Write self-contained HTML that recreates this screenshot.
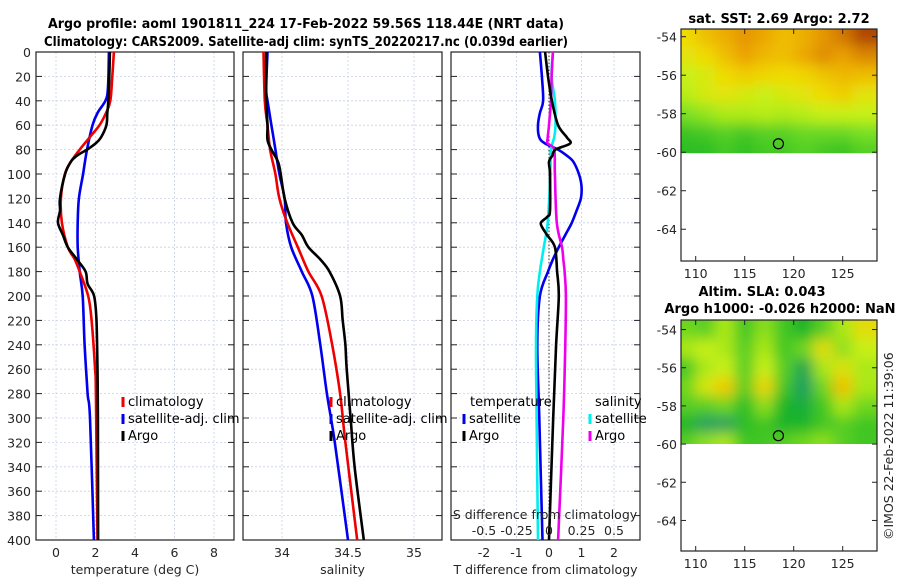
<!DOCTYPE html>
<html><head><meta charset="utf-8">
<style>
html,body{margin:0;padding:0;background:#fff;}
svg{display:block;font-family:"DejaVu Sans","Liberation Sans",sans-serif;}
.tk{font-size:12.5px;fill:#262626;}
.ttl{font-size:13px;font-weight:bold;fill:#000;}
.ttl2{font-size:13px;font-weight:bold;fill:#000;}
.lg{font-size:13px;fill:#000;}
</style></head>
<body>
<svg id="fig" width="900" height="580" viewBox="0 0 900 580" xmlns="http://www.w3.org/2000/svg">
<defs>
<filter id="blur" x="0" y="0" width="1" height="1"><feGaussianBlur stdDeviation="7"/></filter>
<clipPath id="clipM1"><rect x="681" y="29" width="196" height="125"/></clipPath>
<clipPath id="clipM2"><rect x="681" y="320" width="196" height="124"/></clipPath>
</defs>
<text class="ttl2" x="306" y="28" text-anchor="middle" textLength="516" lengthAdjust="spacingAndGlyphs">Argo profile: aoml 1901811_224 17-Feb-2022 59.56S 118.44E (NRT data)</text>
<text class="ttl2" x="306" y="46" text-anchor="middle" textLength="524" lengthAdjust="spacingAndGlyphs">Climatology: CARS2009. Satellite-adj clim: synTS_20220217.nc (0.039d earlier)</text>
<text class="ttl" x="779" y="23" text-anchor="middle">sat. SST: 2.69 Argo: 2.72</text>
<text class="ttl" x="762" y="296" text-anchor="middle">Altim. SLA: 0.043</text>
<text class="ttl" x="780" y="313" text-anchor="middle">Argo h1000: -0.026 h2000: NaN</text>
<text class="tk" transform="translate(893,540) rotate(-90)">©IMOS 22-Feb-2022 11:39:06</text>
<g id="plots"></g>
</svg>
<script>
// ---------- data ----------
const depthTicks = [0,20,40,60,80,100,120,140,160,180,200,220,240,260,280,300,320,340,360,380,400];
const tempTicks = [0,2,4,6,8];
const salTicks = [34,34.5,35];
const salTickLabels = ["34","34.5","35"];
const tdiffTicks = [-2,-1,0,1,2];
const sdiffTicks = [-0.5,-0.25,0,0.25,0.5];
const sdiffTickLabels = ["-0.5","-0.25","0","0.25","0.5"];

const tArgoDepth = [0,20,40,50,60,70,75,80,85,90,100,120,130,140,150,160,170,180,190,200,220,260,300,400];
const tArgo      = [2.73,2.7,2.65,2.6,2.55,2.28,2.0,1.57,1.06,0.75,0.46,0.2,0.2,0.1,0.35,0.6,1.06,1.5,1.6,1.93,2.05,2.1,2.12,2.13];
const tClimDepth = [0,20,40,50,60,70,80,90,100,120,140,160,170,180,200,220,260,280,400];
const tClim      = [2.93,2.85,2.75,2.53,2.2,1.7,1.2,0.75,0.45,0.25,0.3,0.6,0.95,1.2,1.63,1.8,1.98,2.02,2.1];
const tSatDepth  = [0,30,40,50,60,80,100,120,140,160,180,200,240,280,300,400];
const tSat       = [2.68,2.63,2.5,2.1,1.85,1.57,1.37,1.16,1.1,1.1,1.2,1.35,1.45,1.6,1.72,1.92];

const sArgoDepth = [0,20,40,60,72,80,90,100,120,140,150,160,170,180,200,220,240,260,300,340,400];
const sArgo      = [33.88,33.88,33.88,33.89,33.89,33.92,33.97,33.99,34.02,34.08,34.15,34.2,34.29,34.36,34.44,34.46,34.48,34.49,34.52,34.55,34.62];
const sClimDepth = [0,40,60,80,100,120,140,160,180,200,240,280,320,400];
const sClim      = [33.86,33.87,33.89,33.91,33.95,33.98,34.04,34.12,34.2,34.3,34.38,34.44,34.48,34.57];
const sSatDepth  = [0,30,40,60,80,100,120,140,160,180,200,240,280,320,400];
const sSat       = [33.89,33.88,33.89,33.92,33.95,33.98,34.02,34.03,34.07,34.15,34.23,34.29,34.34,34.4,34.5];

const dTSatDepth = [0,20,40,50,60,70,75,80,85,90,100,110,120,130,140,150,160,170,180,200,240,300,400];
const dTSat      = [-0.28,-0.22,-0.18,-0.28,-0.34,-0.3,-0.12,0.28,0.55,0.75,0.92,1.0,0.98,0.85,0.7,0.5,0.3,0.12,-0.03,-0.28,-0.36,-0.3,-0.2];
const dTArgoDepth = [0,20,40,60,70,75,80,85,90,100,130,135,140,145,150,160,180,200,240,300,400];
const dTArgo      = [-0.12,-0.03,0.09,0.28,0.55,0.65,0.2,0.1,0.0,0.03,0.03,-0.05,-0.25,-0.18,-0.06,0.18,0.25,0.3,0.22,0.13,0.0];
const dSArgoDepth = [0,20,40,60,70,75,80,100,140,160,170,180,200,240,300,400];
const dSArgo      = [0.03,0.02,0.015,0.0,-0.01,-0.01,0.04,0.045,0.06,0.1,0.11,0.12,0.13,0.125,0.11,0.07];
const dSSatDepth = [0,20,40,60,70,80,100,140,160,180,200,240,300,400];
const dSSat      = [0.03,0.02,0.045,0.05,0.04,0.015,0.01,-0.01,-0.04,-0.07,-0.09,-0.1,-0.095,-0.085];

const mapLon = [109,111,113,115,117,119,121,123,125,127];
const sstLat = [-54,-55,-56,-57,-58,-59,-59.8];
const sstVals = [
 [0.6,0.7,0.76,0.82,0.78,0.7,0.75,0.82,0.88,0.98],
 [0.55,0.6,0.7,0.8,0.72,0.7,0.78,0.84,0.8,0.85],
 [0.45,0.5,0.6,0.65,0.62,0.6,0.62,0.68,0.72,0.7],
 [0.42,0.5,0.55,0.5,0.45,0.5,0.55,0.6,0.65,0.55],
 [0.3,0.35,0.4,0.4,0.42,0.4,0.42,0.45,0.45,0.45],
 [0.12,0.15,0.2,0.15,0.2,0.2,0.25,0.25,0.25,0.3],
 [0.08,0.08,0.15,0.1,0.15,0.15,0.2,0.15,0.12,0.2]];
const slaLat = [-54,-55,-56,-57,-58,-59,-59.8];
const slaVals = [
 [0.4,0.35,0.5,0.3,0.45,0.3,0.2,0.35,0.5,0.65],
 [0.5,0.55,0.5,0.35,0.5,0.3,0.4,0.65,0.45,0.55],
 [0.3,0.5,0.55,0.35,0.55,0.35,0.1,0.5,0.62,0.5],
 [0.4,0.6,0.72,0.35,0.68,0.3,0.05,0.4,0.75,0.5],
 [0.35,0.35,0.4,0.25,0.45,0.2,0.15,0.3,0.5,0.4],
 [0.2,0.05,0.05,0.25,0.3,0.2,0.2,0.3,0.35,0.3],
 [0.35,0.45,0.5,0.3,0.3,0.35,0.4,0.45,0.35,0.3]];
const argoPos = [118.44,-59.56];
const mapLonTicks = [110,115,120,125];
const mapLatTicks = [-54,-56,-58,-60,-62,-64];

// ---------- helpers ----------
const NS="http://www.w3.org/2000/svg";
const root=document.getElementById('plots');
function mk(tag,attrs,parent){const e=document.createElementNS(NS,tag);for(const k in attrs)e.setAttribute(k,attrs[k]);(parent||root).appendChild(e);return e;}
const yTop=52,yBot=540;
function yD(d){return yTop+(yBot-yTop)*d/400;}
function lin(d0,d1,r0,r1){return v=>r0+(v-d0)*(r1-r0)/(d1-d0);}
const xT=lin(0,8,56,214);
const xS=lin(34,35,282,414);
const xDT=lin(-2,2,484,614);
const xDS=lin(-0.5,0.5,484,614);

function panel(name,x0,x1,xs,ticks,labels,xlabel,showY){
  const g=mk('g',{});
  
  
  for(const d of depthTicks){const l=mk('line',{x1:x0,x2:x1,y1:yD(d),y2:yD(d),stroke:'#c8cfe8','stroke-width':0.8,'stroke-dasharray':'2,2'},g);
    
    mk('line',{x1:x0,x2:x0+6,y1:yD(d),y2:yD(d),stroke:'#222'},g);mk('line',{x1:x1-6,x2:x1,y1:yD(d),y2:yD(d),stroke:'#222'},g);
    if(showY){const t=mk('text',{x:x0-5,y:yD(d)+5,'text-anchor':'end',class:'tk'},g);t.textContent=d;
      }}
  ticks.forEach((v,i)=>{const X=xs(v);const l=mk('line',{x1:X,x2:X,y1:yTop,y2:yBot,stroke:'#c8cfe8','stroke-width':0.8,'stroke-dasharray':'2,2'},g);
    
    const t=mk('text',{x:X,y:557,'text-anchor':'middle',class:'tk'},g);t.textContent=labels[i];
    });
  const r=mk('rect',{x:x0,y:yTop,width:x1-x0,height:yBot-yTop,fill:'none',stroke:'#222','stroke-width':1.2},g);
  
  const xl=mk('text',{x:(x0+x1)/2,y:574,'text-anchor':'middle',class:'tk'},g);xl.textContent=xlabel;
  
  return g;
}
function line(g,name,xs,vals,depths,color){
  const P=vals.map((v,i)=>[xs(v),yD(depths[i])]);
  let d='M'+P[0][0].toFixed(1)+','+P[0][1].toFixed(1);
  for(let i=0;i<P.length-1;i++){const p0=P[Math.max(0,i-1)],p1=P[i],p2=P[i+1],p3=P[Math.min(P.length-1,i+2)];
    const c1=[p1[0]+(p2[0]-p0[0])/6,p1[1]+(p2[1]-p0[1])/6],c2=[p2[0]-(p3[0]-p1[0])/6,p2[1]-(p3[1]-p1[1])/6];
    d+=' C'+c1.map(n=>n.toFixed(1)).join(',')+' '+c2.map(n=>n.toFixed(1)).join(',')+' '+p2.map(n=>n.toFixed(1)).join(',');}
  const p=mk('path',{d:d,fill:'none',stroke:color,'stroke-width':2.6,'stroke-linejoin':'round'},g);
  
}
function legend(g,x,y,items){
  items.forEach((it,i)=>{const yy=y+i*17;
    const m=mk('line',{x1:x,x2:x,y1:yy-9,y2:yy+1,stroke:it[1],'stroke-width':3},g);
    
    const t=mk('text',{x:x+5,y:yy,class:'lg'},g);t.textContent=it[0];
    });
}

// panel 1
const p1=panel('temperature-panel',36,234,xT,tempTicks,tempTicks.map(String),'temperature (deg C)',true);
line(p1,'temp-satellite-line',xT,tSat,tSatDepth,'#0000ee');
line(p1,'temp-climatology-line',xT,tClim,tClimDepth,'#ee0000');
line(p1,'temp-argo-line',xT,tArgo,tArgoDepth,'#000');
legend(p1,123,406,[['climatology','#ee0000'],['satellite-adj. clim','#0000ee'],['Argo','#000']]);
// panel 2
const p2=panel('salinity-panel',243,442,xS,salTicks,salTickLabels,'salinity',false);
line(p2,'sal-satellite-line',xS,sSat,sSatDepth,'#0000ee');
line(p2,'sal-climatology-line',xS,sClim,sClimDepth,'#ee0000');
line(p2,'sal-argo-line',xS,sArgo,sArgoDepth,'#000');
legend(p2,331,406,[['climatology','#ee0000'],['satellite-adj. clim','#0000ee'],['Argo','#000']]);
// panel 3
const p3=panel('difference-panel',451,640,xDT,tdiffTicks,tdiffTicks.map(String),'T difference from climatology',false);
const z=mk('line',{x1:xDT(0),x2:xDT(0),y1:yTop,y2:yBot,stroke:'#333','stroke-width':1,'stroke-dasharray':'1.5,2'},p3);

line(p3,'tdiff-satellite-line',xDT,dTSat,dTSatDepth,'#0000ee');
line(p3,'sdiff-satellite-line',xDS,dSSat,dSSatDepth,'#00eeee');
line(p3,'sdiff-argo-line',xDS,dSArgo,dSArgoDepth,'#ee00ee');
line(p3,'tdiff-argo-line',xDT,dTArgo,dTArgoDepth,'#000');
{const t=mk('text',{x:470,y:406,class:'lg'},p3);t.textContent='temperature';
 const s=mk('text',{x:595,y:406,class:'lg'},p3);s.textContent='salinity';}
legend(p3,464,423,[['satellite','#0000ee'],['Argo','#000']]);
legend(p3,590,423,[['satellite','#00eeee'],['Argo','#ee00ee']]);
{const t=mk('text',{x:545,y:519,'text-anchor':'middle',class:'tk'},p3);t.textContent='S difference from climatology';
 
 sdiffTicks.forEach((v,i)=>{const l=mk('text',{x:xDS(v),y:535,'text-anchor':'middle',class:'tk'},p3);l.textContent=sdiffTickLabels[i];
 });}

// maps
function cmapSST(v){const stops=[[0,[16,176,32]],[0.3,[120,224,32]],[0.45,[200,240,20]],[0.6,[240,220,0]],[0.8,[235,160,0]],[1,[170,60,0]]];return interp(stops,v);}
function cmapSLA(v){const stops=[[0,[20,150,110]],[0.2,[20,180,40]],[0.4,[110,215,30]],[0.55,[200,240,20]],[0.7,[240,210,0]],[0.85,[240,160,0]]];return interp(stops,v);}
function interp(stops,v){for(let i=1;i<stops.length;i++){if(v<=stops[i][0]||i==stops.length-1){const a=stops[i-1],b=stops[i];let t=(v-a[0])/(b[0]-a[0]);t=Math.max(0,Math.min(1,t));
 return 'rgb('+a[1].map((c,k)=>Math.round(c+(b[1][k]-c)*t)).join(',')+')';}}}
function map(name,x0,y0,x1,y1,latTop,latBot,lats,vals,cmap,clip,dataBot){
  const g=mk('g',{});
  const xL=lin(108.5,128.5,x0,x1), yL=lin(latTop,latBot,y0,y1);
  const cells=mk('g',{'clip-path':'url(#'+clip+')'},g);
  const inner=mk('g',{filter:'url(#blur)'},cells);
  const dLon=2;
  lats.forEach((lat,r)=>{const ya=r==0?latTop+2:(lat+lats[r-1])/2, yb=r==lats.length-1?dataBot-2:(lat+lats[r+1])/2;
    mapLon.forEach((lon,c)=>{const xa=c==0?104:lon-dLon/2, xb=c==mapLon.length-1?133:lon+dLon/2;
      const rc=mk('rect',{x:xL(xa),y:yL(ya),width:xL(xb)-xL(xa),height:yL(yb)-yL(ya),fill:cmap(vals[r][c])},inner);
      });});
  mk('rect',{x:x0,y:yL(dataBot),width:x1-x0,height:y1-yL(dataBot),fill:'#fff'},g);
  mapLatTicks.forEach(v=>{const Y=yL(v);mk('line',{x1:x0,x2:x0+5,y1:Y,y2:Y,stroke:'#222'},g);mk('line',{x1:x1-5,x2:x1,y1:Y,y2:Y,stroke:'#222'},g);
    const t=mk('text',{x:x0-4,y:Y+5,'text-anchor':'end',class:'tk'},g);t.textContent=v;});
  mapLonTicks.forEach(v=>{const X=xL(v);mk('line',{x1:X,x2:X,y1:y1-5,y2:y1,stroke:'#222'},g);mk('line',{x1:X,x2:X,y1:y0,y2:y0+5,stroke:'#222'},g);
    const t=mk('text',{x:X,y:y1+17,'text-anchor':'middle',class:'tk'},g);t.textContent=v;});
  const c=mk('circle',{cx:xL(argoPos[0]),cy:yL(argoPos[1]),r:5,fill:'none',stroke:'#000','stroke-width':1.2},g);
  
  const b=mk('rect',{x:x0,y:y0,width:x1-x0,height:y1-y0,fill:'none',stroke:'#222','stroke-width':1.2},g);
  
}
map('sst-map',681,29,877,261,-53.6,-65.65,sstLat,sstVals,cmapSST,'clipM1',-60.05);
map('sla-map',681,320,877,551,-53.5,-65.6,slaLat,slaVals,cmapSLA,'clipM2',-60.05);
</script>
</body></html>
